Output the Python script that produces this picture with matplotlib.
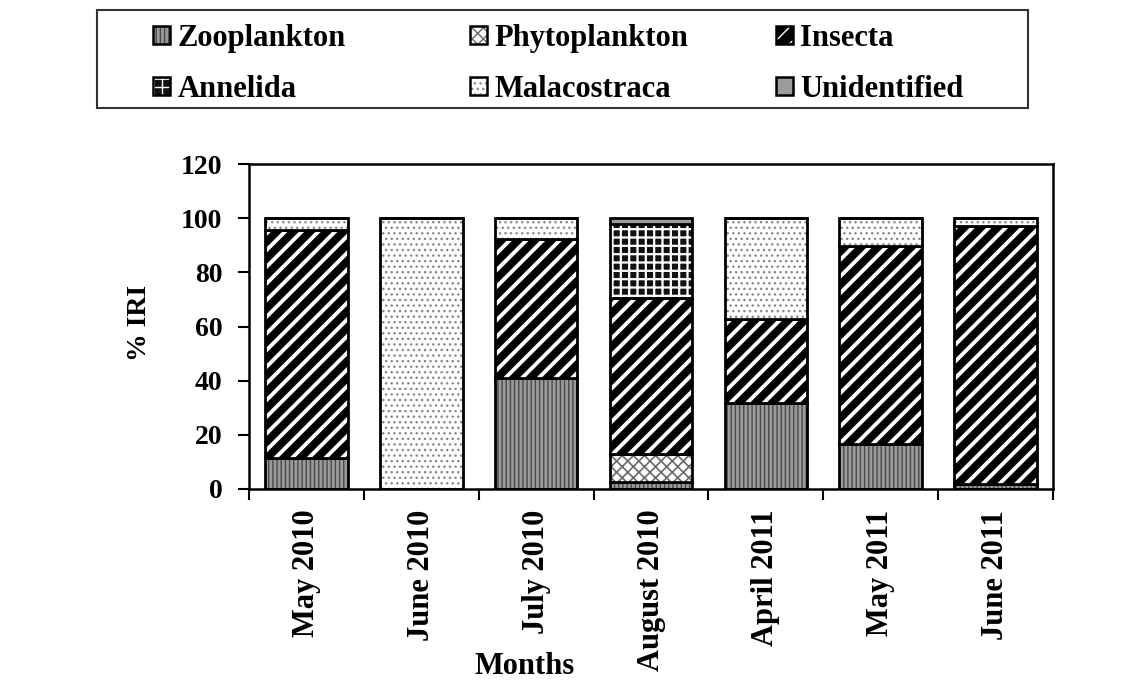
import matplotlib
matplotlib.use("Agg")
import matplotlib.pyplot as plt
import numpy as np
from matplotlib.patches import Patch, Rectangle
from matplotlib.legend_handler import HandlerTuple

months = ["May 2010", "June 2010", "July 2010", "August 2010",
          "April 2011", "May 2011", "June 2011"]
zooplankton = [11.3, 0, 40.9, 2.7, 31.9, 16.8, 1.8]
phytoplankton = [0, 0, 0, 10.4, 0, 0, 0]
insecta = [84.3, 0, 51.5, 57.3, 30.9, 72.8, 95.4]
annelida = [0, 0, 0, 27.4, 0, 0, 0]
malacostraca = [4.4, 100, 7.6, 0, 37.2, 10.4, 2.8]
unidentified = [0, 0, 0, 2.2, 0, 0, 0]
series_names = ["Zooplankton", "Phytoplankton", "Insecta",
                "Annelida", "Malacostraca", "Unidentified"]
yticks = [0, 20, 40, 60, 80, 100, 120]

# style per series: face, hatch, hatch colour, hatch linewidth
styles = {
    "Zooplankton":   dict(face="#9a9a9a", hatch="||||", hc="#4a4a4a", hlw=1.0),
    "Phytoplankton": dict(face="white",   hatch="xxx",  hc="#6a6a6a", hlw=1.2),
    "Insecta":       dict(face="black",   hatch="//",   hc="white",   hlw=2.8),
    "Annelida":      dict(face="#111111", hatch="++",   hc="white",   hlw=1.6),
    "Malacostraca":  dict(face="white",   hatch="...",  hc="#8a8a8a", hlw=1.0),
    "Unidentified":  dict(face="#9c9c9c", hatch=None,   hc="#9c9c9c", hlw=1.0),
}
data = [zooplankton, phytoplankton, insecta, annelida, malacostraca, unidentified]

FONT = "Liberation Serif"
plt.rcParams["font.family"] = [FONT, "DejaVu Serif"]
plt.rcParams["font.weight"] = "bold"

fig = plt.figure(figsize=(11.4, 6.86), dpi=100)
ax = fig.add_axes([249/1140, 1-489/686, (1053-249)/1140, (489-164)/686])

x = np.arange(len(months))
width = 0.72
bottom = np.zeros(len(months))


def hatched_bar(x, h, b, st):
    plt.rcParams["hatch.linewidth"] = st["hlw"]
    kw = dict(width=width, bottom=b, color=st["face"], edgecolor=st["hc"],
              linewidth=0, hatch=st["hatch"])
    try:
        return ax.bar(x, h, hatch_linewidth=st["hlw"], **kw)
    except Exception:
        return ax.bar(x, h, **kw)


for name, vals in zip(series_names, data):
    vals = np.array(vals, dtype=float)
    st = styles[name]
    hatched_bar(x, vals, bottom, st)
    ax.bar(x, vals, width=width, bottom=bottom, fill=False,
           edgecolor="black", linewidth=2.0)
    bottom = bottom + vals

ax.set_xlim(-0.5, len(months) - 0.5)
ax.set_ylim(0, 120)
ax.set_yticks(yticks)
ax.set_yticklabels([str(v) for v in yticks], fontsize=20, fontweight="bold")
ax.set_xticks(x)
ax.set_xticklabels(months, rotation=90, fontsize=22, fontweight="bold")
ax.set_xticks(np.arange(-0.5, len(months)), minor=True)
ax.tick_params(axis="x", which="major", length=0, pad=15)
ax.tick_params(axis="x", which="minor", length=8, width=1.5, direction="out")
ax.tick_params(axis="y", length=8, width=1.5, direction="out", pad=11)
for sp in ax.spines.values():
    sp.set_linewidth(1.8)

fig.text(140/1140, 1-323/686, "% IRI", rotation=90, ha="center", va="center",
         fontsize=20, fontweight="bold")
fig.text(525/1140, 1-667/686, "Months", ha="center", va="center",
         fontsize=22, fontweight="bold")

# legend (row-major order as in reference)
handles = {}
for name in series_names:
    st = styles[name]
    plt.rcParams["hatch.linewidth"] = min(st["hlw"], 1.5)
    hp = Patch(facecolor=st["face"], edgecolor=st["hc"], hatch=st["hatch"], linewidth=0)
    op = Patch(facecolor="none", edgecolor="black", linewidth=1.8)
    handles[name] = (hp, op)

col_x = [153, 470, 776]
columns = [["Zooplankton", "Annelida"], ["Phytoplankton", "Malacostraca"],
           ["Insecta", "Unidentified"]]
for cx, names in zip(col_x, columns):
    leg = fig.legend([handles[n] for n in names], names,
                     handler_map={tuple: HandlerTuple(ndivide=1)},
                     loc="upper left", bbox_to_anchor=(cx/1140, 1-24/686),
                     bbox_transform=fig.transFigure, frameon=False,
                     borderpad=0, borderaxespad=0, handlelength=0.55,
                     handleheight=0.55, handletextpad=0.25, labelspacing=0.72,
                     prop=dict(family=FONT, weight="bold", size=22))

fig.add_artist(Rectangle((97/1140, 1-108/686), 931/1140, 98/686,
                         transform=fig.transFigure, fill=False,
                         edgecolor="#333333", linewidth=1.5))

fig.savefig("out.png", dpi=100)
